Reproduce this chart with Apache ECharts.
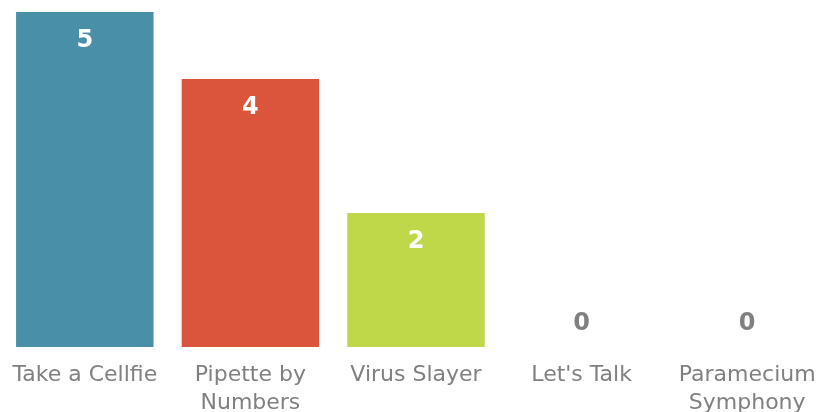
<!DOCTYPE html>
<html><head><meta charset="utf-8">
<script src="https://cdn.jsdelivr.net/npm/echarts@6/dist/echarts.min.js"></script>
<style>html,body{margin:0;padding:0;background:#fff}#c{width:816px;height:412px}</style>
</head><body><div id="c"></div>
<script>
const categories = ["Take a Cellfie", "Pipette by Numbers", "Virus Slayer", "Let's Talk", "Paramecium Symphony"];
const values = [5, 4, 2, 0, 0];
const colors = ["#4A8FA8", "#DB553D", "#BFD84A", "#BFD84A", "#BFD84A"];

const chart = echarts.init(document.getElementById('c'));
const font = "DejaVu Sans, Verdana, sans-serif";
chart.setOption({
  animation: false,
  grid: {left: 2, width: 828, top: 12, bottom: 65, containLabel: false, outerBoundsMode: 'none'},
  xAxis: {
    type: 'category', data: categories,
    axisLine: {show: false}, axisTick: {show: false},
    axisLabel: {color: '#808080', fontFamily: font, fontSize: 22, margin: 14, lineHeight: 28, interval: 0,
      formatter: v => v.length > 15 ? v.replace(/ (\S+)$/, '\n$1') : v}
  },
  yAxis: {type: 'value', min: 0, max: 5, show: false, splitLine: {show: false}},
  series: [{
    type: 'bar', barCategoryGap: '17%',
    data: values.map((v, i) => ({
      value: v,
      itemStyle: {color: colors[i]},
      label: v > 0
        ? {show: true, position: 'insideTop', distance: 17, color: '#fff', fontWeight: 'bold', fontSize: 24, fontFamily: font}
        : {show: true, position: 'top', distance: 11, color: '#808080', fontWeight: 'bold', fontSize: 24, fontFamily: font}
    }))
  }]
});
</script></body></html>
